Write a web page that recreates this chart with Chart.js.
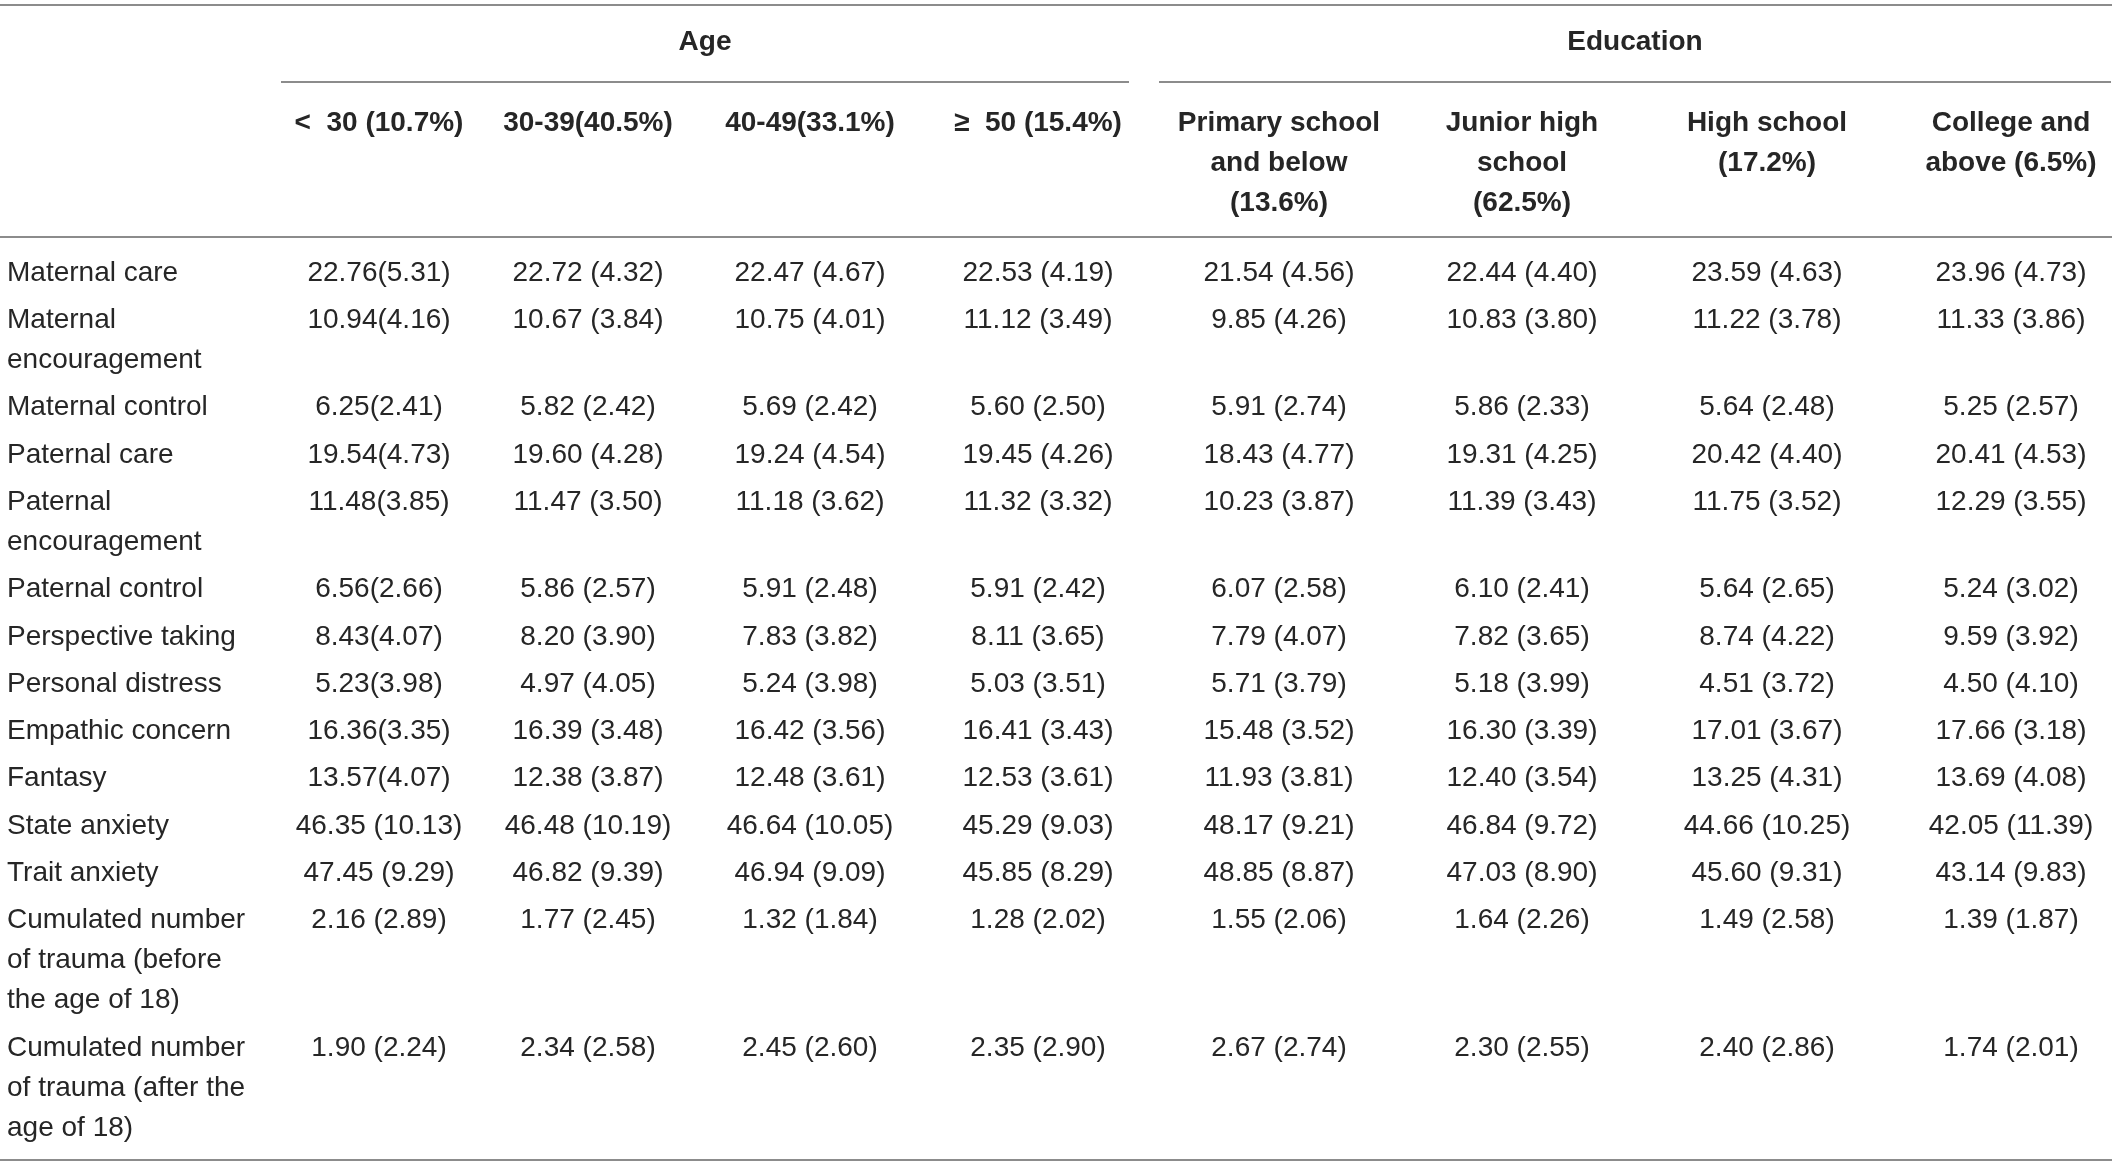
<!DOCTYPE html>
<html>
<head>
<meta charset="utf-8">
<script src="https://cdn.jsdelivr.net/npm/chart.js@4.4.1/dist/chart.umd.min.js"></script>
<style>
    html, body { margin: 0; padding: 0; background: #ffffff; }
    #wrap { width: 2118px; height: 1166px; position: relative; }
</style>
</head>
<body>
<div id="wrap"><canvas id="tableChart"></canvas></div>
<script>
// 행 이름
const rowLabels = [
    ['Maternal care'],
    ['Maternal', 'encouragement'],
    ['Maternal control'],
    ['Paternal care'],
    ['Paternal', 'encouragement'],
    ['Paternal control'],
    ['Perspective taking'],
    ['Personal distress'],
    ['Empathic concern'],
    ['Fantasy'],
    ['State anxiety'],
    ['Trait anxiety'],
    ['Cumulated number', 'of trauma (before', 'the age of 18)'],
    ['Cumulated number', 'of trauma (after the', 'age of 18)']
];

// 그룹 / 열 머리글
const groupNames = ['Age', 'Education'];
const ageHeaders = [['<  30 (10.7%)'], ['30-39(40.5%)'], ['40-49(33.1%)'], ['\u2265  50 (15.4%)']];
const eduHeaders = [['Primary school', 'and below', '(13.6%)'], ['Junior high', 'school', '(62.5%)'], ['High school', '(17.2%)'], ['College and', 'above (6.5%)']];

// 평균 (표준편차)
const under30Mean = [22.76, 10.94, 6.25, 19.54, 11.48, 6.56, 8.43, 5.23, 16.36, 13.57, 46.35, 47.45, 2.16, 1.90];
const under30Sd   = [5.31, 4.16, 2.41, 4.73, 3.85, 2.66, 4.07, 3.98, 3.35, 4.07, 10.13, 9.29, 2.89, 2.24];
const age30Mean   = [22.72, 10.67, 5.82, 19.60, 11.47, 5.86, 8.20, 4.97, 16.39, 12.38, 46.48, 46.82, 1.77, 2.34];
const age30Sd     = [4.32, 3.84, 2.42, 4.28, 3.50, 2.57, 3.90, 4.05, 3.48, 3.87, 10.19, 9.39, 2.45, 2.58];
const age40Mean   = [22.47, 10.75, 5.69, 19.24, 11.18, 5.91, 7.83, 5.24, 16.42, 12.48, 46.64, 46.94, 1.32, 2.45];
const age40Sd     = [4.67, 4.01, 2.42, 4.54, 3.62, 2.48, 3.82, 3.98, 3.56, 3.61, 10.05, 9.09, 1.84, 2.60];
const over50Mean  = [22.53, 11.12, 5.60, 19.45, 11.32, 5.91, 8.11, 5.03, 16.41, 12.53, 45.29, 45.85, 1.28, 2.35];
const over50Sd    = [4.19, 3.49, 2.50, 4.26, 3.32, 2.42, 3.65, 3.51, 3.43, 3.61, 9.03, 8.29, 2.02, 2.90];
const primaryMean = [21.54, 9.85, 5.91, 18.43, 10.23, 6.07, 7.79, 5.71, 15.48, 11.93, 48.17, 48.85, 1.55, 2.67];
const primarySd   = [4.56, 4.26, 2.74, 4.77, 3.87, 2.58, 4.07, 3.79, 3.52, 3.81, 9.21, 8.87, 2.06, 2.74];
const juniorMean  = [22.44, 10.83, 5.86, 19.31, 11.39, 6.10, 7.82, 5.18, 16.30, 12.40, 46.84, 47.03, 1.64, 2.30];
const juniorSd    = [4.40, 3.80, 2.33, 4.25, 3.43, 2.41, 3.65, 3.99, 3.39, 3.54, 9.72, 8.90, 2.26, 2.55];
const highMean    = [23.59, 11.22, 5.64, 20.42, 11.75, 5.64, 8.74, 4.51, 17.01, 13.25, 44.66, 45.60, 1.49, 2.40];
const highSd      = [4.63, 3.78, 2.48, 4.40, 3.52, 2.65, 4.22, 3.72, 3.67, 4.31, 10.25, 9.31, 2.58, 2.86];
const collegeMean = [23.96, 11.33, 5.25, 20.41, 12.29, 5.24, 9.59, 4.50, 17.66, 13.69, 42.05, 43.14, 1.39, 1.74];
const collegeSd   = [4.73, 3.86, 2.57, 4.53, 3.55, 3.02, 3.92, 4.10, 3.18, 4.08, 11.39, 9.83, 1.87, 2.01];

// 첫 열에서 괄호 앞 공백이 없는 행
const tightRows = [0, 1, 2, 3, 4, 5, 6, 7, 8, 9];

const columns = [
    { mean: under30Mean, sd: under30Sd, tight: true },
    { mean: age30Mean, sd: age30Sd },
    { mean: age40Mean, sd: age40Sd },
    { mean: over50Mean, sd: over50Sd },
    { mean: primaryMean, sd: primarySd },
    { mean: juniorMean, sd: juniorSd },
    { mean: highMean, sd: highSd },
    { mean: collegeMean, sd: collegeSd }
];

// 레이아웃 (스케일 단위)
const layout = {
    colCenters: [379, 588, 810, 1038, 1279, 1522, 1767, 2011],
    labelX: 7,
    firstRowY: 273,
    rowStep: 47.3,
    lineHeight: 40,
    headerY: 123,
    groupY: 42,
    groupRules: [[281, 1129], [1159, 2111]],
    groupRuleY: 82,
    topRuleY: 5,
    headRuleY: 237,
    bottomRuleY: 1160,
    ruleEnd: 2112
};

const textColor = '#262626';
const ruleColor = '#8c8c8c';
const fontFamily = "'Liberation Sans', Arial, Helvetica, sans-serif";

// 행의 y 위치 계산
function rowPositions() {
    const ys = [];
    let y = layout.firstRowY;
    rowLabels.forEach(lines => {
        ys.push(y);
        y += layout.rowStep + layout.lineHeight * (lines.length - 1);
    });
    return ys;
}
const rowY = rowPositions();

function formatCell(c, r) {
    const col = columns[c];
    const gap = (col.tight && tightRows.includes(r)) ? '' : ' ';
    return col.mean[r].toFixed(2) + gap + '(' + col.sd[r].toFixed(2) + ')';
}

const datasets = columns.map((col, c) => ({
    label: 'col' + c,
    data: col.mean.map((m, r) => ({ x: layout.colCenters[c], y: rowY[r] })),
    pointRadius: 0,
    pointHoverRadius: 0
}));

const tablePlugin = {
    id: 'tablePlugin',
    afterDatasetsDraw(chart) {
        const ctx = chart.ctx;
        const xs = chart.scales.x;
        const ys = chart.scales.y;
        const px = v => xs.getPixelForValue(v);
        const py = v => ys.getPixelForValue(v);

        ctx.save();
        // 가로줄
        ctx.strokeStyle = ruleColor;
        ctx.lineWidth = 2;
        const hline = (x1, x2, y) => {
            ctx.beginPath();
            ctx.moveTo(px(x1), py(y));
            ctx.lineTo(px(x2), py(y));
            ctx.stroke();
        };
        hline(0, layout.ruleEnd, layout.topRuleY);
        layout.groupRules.forEach(g => hline(g[0], g[1], layout.groupRuleY));
        hline(0, layout.ruleEnd, layout.headRuleY);
        hline(0, layout.ruleEnd, layout.bottomRuleY);

        ctx.fillStyle = textColor;
        ctx.textBaseline = 'middle';

        // 그룹 이름
        ctx.font = 'bold 28px ' + fontFamily;
        ctx.textAlign = 'center';
        groupNames.forEach((name, i) => {
            const g = layout.groupRules[i];
            ctx.fillText(name, px((g[0] + g[1]) / 2), py(layout.groupY));
        });

        // 열 머리글
        ageHeaders.concat(eduHeaders).forEach((lines, c) => {
            lines.forEach((t, k) => {
                ctx.fillText(t, px(layout.colCenters[c]), py(layout.headerY + k * layout.lineHeight));
            });
        });

        // 행 이름
        ctx.font = '28px ' + fontFamily;
        ctx.textAlign = 'left';
        rowLabels.forEach((lines, r) => {
            lines.forEach((t, k) => {
                ctx.fillText(t, px(layout.labelX), py(rowY[r] + k * layout.lineHeight));
            });
        });

        // 셀 값
        ctx.textAlign = 'center';
        chart.data.datasets.forEach((ds, c) => {
            chart.getDatasetMeta(c).data.forEach((pt, r) => {
                ctx.fillText(formatCell(c, r), pt.x, pt.y);
            });
        });
        ctx.restore();
    }
};

document.addEventListener('DOMContentLoaded', function() {
    new Chart(document.getElementById('tableChart'), {
        type: 'scatter',
        data: { datasets: datasets },
        options: {
            responsive: true,
            maintainAspectRatio: false,
            animation: false,
            events: [],
            layout: { padding: 0 },
            plugins: {
                legend: { display: false },
                tooltip: { enabled: false }
            },
            scales: {
                x: { type: 'linear', min: 0, max: 2118, display: false },
                y: { type: 'linear', min: 0, max: 1166, reverse: true, display: false }
            }
        },
        plugins: [tablePlugin]
    });
});
</script>
</body>
</html>
